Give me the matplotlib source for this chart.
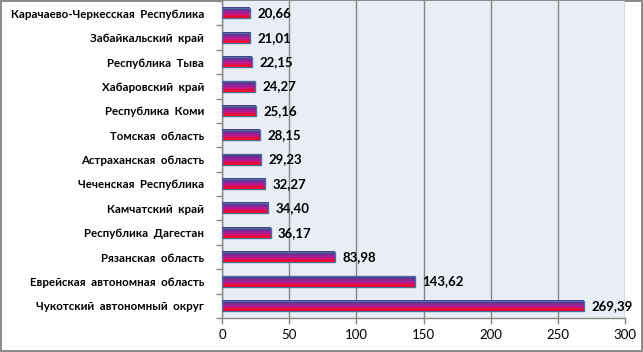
import numpy as np
import matplotlib
matplotlib.use("Agg")
import matplotlib.pyplot as plt
from matplotlib.colors import LinearSegmentedColormap

categories = [
    "Карачаево-Черкесская  Республика",
    "Забайкальский  край",
    "Республика  Тыва",
    "Хабаровский  край",
    "Республика  Коми",
    "Томская  область",
    "Астраханская  область",
    "Чеченская  Республика",
    "Камчатский  край",
    "Республика  Дагестан",
    "Рязанская  область",
    "Еврейская  автономная  область",
    "Чукотский  автономный  округ",
]
values = [20.66, 21.01, 22.15, 24.27, 25.16, 28.15, 29.23, 32.27, 34.40, 36.17, 83.98, 143.62, 269.39]
value_labels = ["20,66", "21,01", "22,15", "24,27", "25,16", "28,15", "29,23", "32,27", "34,40", "36,17", "83,98", "143,62", "269,39"]
xticks = [0, 50, 100, 150, 200, 250, 300]

fig = plt.figure(figsize=(6.43, 3.52), dpi=100)
fig.patch.set_facecolor("white")
fig.patch.set_edgecolor("#8c8c8c")
fig.patch.set_linewidth(1.5)
ax = fig.add_axes([0.3453, 0.0966, 0.6267, 0.9004])
ax.set_facecolor("#E9EDF5")

n = len(categories)
ys = np.arange(n)
h = 0.42
cmap = LinearSegmentedColormap.from_list(
    "g", [(0.0, "#FF0000"), (0.15, "#F00838"), (0.45, "#B01C9C"), (0.75, "#6A3090"), (1.0, "#3C3C88")])
grad = np.linspace(0, 1, 64).reshape(-1, 1)
for y, v in zip(ys, values):
    ax.imshow(grad, extent=[0, v, y + h / 2, y - h / 2], aspect="auto", cmap=cmap,
              origin="lower", zorder=3, interpolation="bilinear")
ax.barh(ys, values, height=h, facecolor="none", edgecolor="#4A6FA5", linewidth=1.0, zorder=4)
for y, v, t in zip(ys, values, value_labels):
    ax.text(v + 5.5, y, t, va="center", ha="left", fontsize=9.5, fontweight="bold",
            family="Lato", color="black", zorder=5)

ax.set_xlim(0, 300)
ax.set_ylim(n - 0.5, -0.5)
ax.set_xticks(xticks)
ax.set_xticklabels([str(x) for x in xticks], fontsize=9.5, family="Lato")
ax.set_yticks(ys)
ax.set_yticklabels(categories, fontsize=8.3, fontweight="bold", family="Lato")
ax.set_yticks(np.arange(-0.5, n + 0.5, 1), minor=True)
ax.tick_params(axis="y", which="major", length=0, pad=13)
ax.tick_params(axis="y", which="minor", length=4, color="#878787", width=1, direction="out")
ax.tick_params(axis="x", length=4, color="#878787", width=1, direction="out", pad=4)
ax.grid(axis="x", color="#878787", linewidth=1, zorder=1)
ax.set_axisbelow(True)
for s in ["top", "right"]:
    ax.spines[s].set_visible(False)
ax.spines["left"].set_color("#878787")
ax.spines["bottom"].set_color("#878787")
ax.spines["left"].set_linewidth(1)
ax.spines["bottom"].set_linewidth(1)

fig.savefig("out.png", dpi=100)
